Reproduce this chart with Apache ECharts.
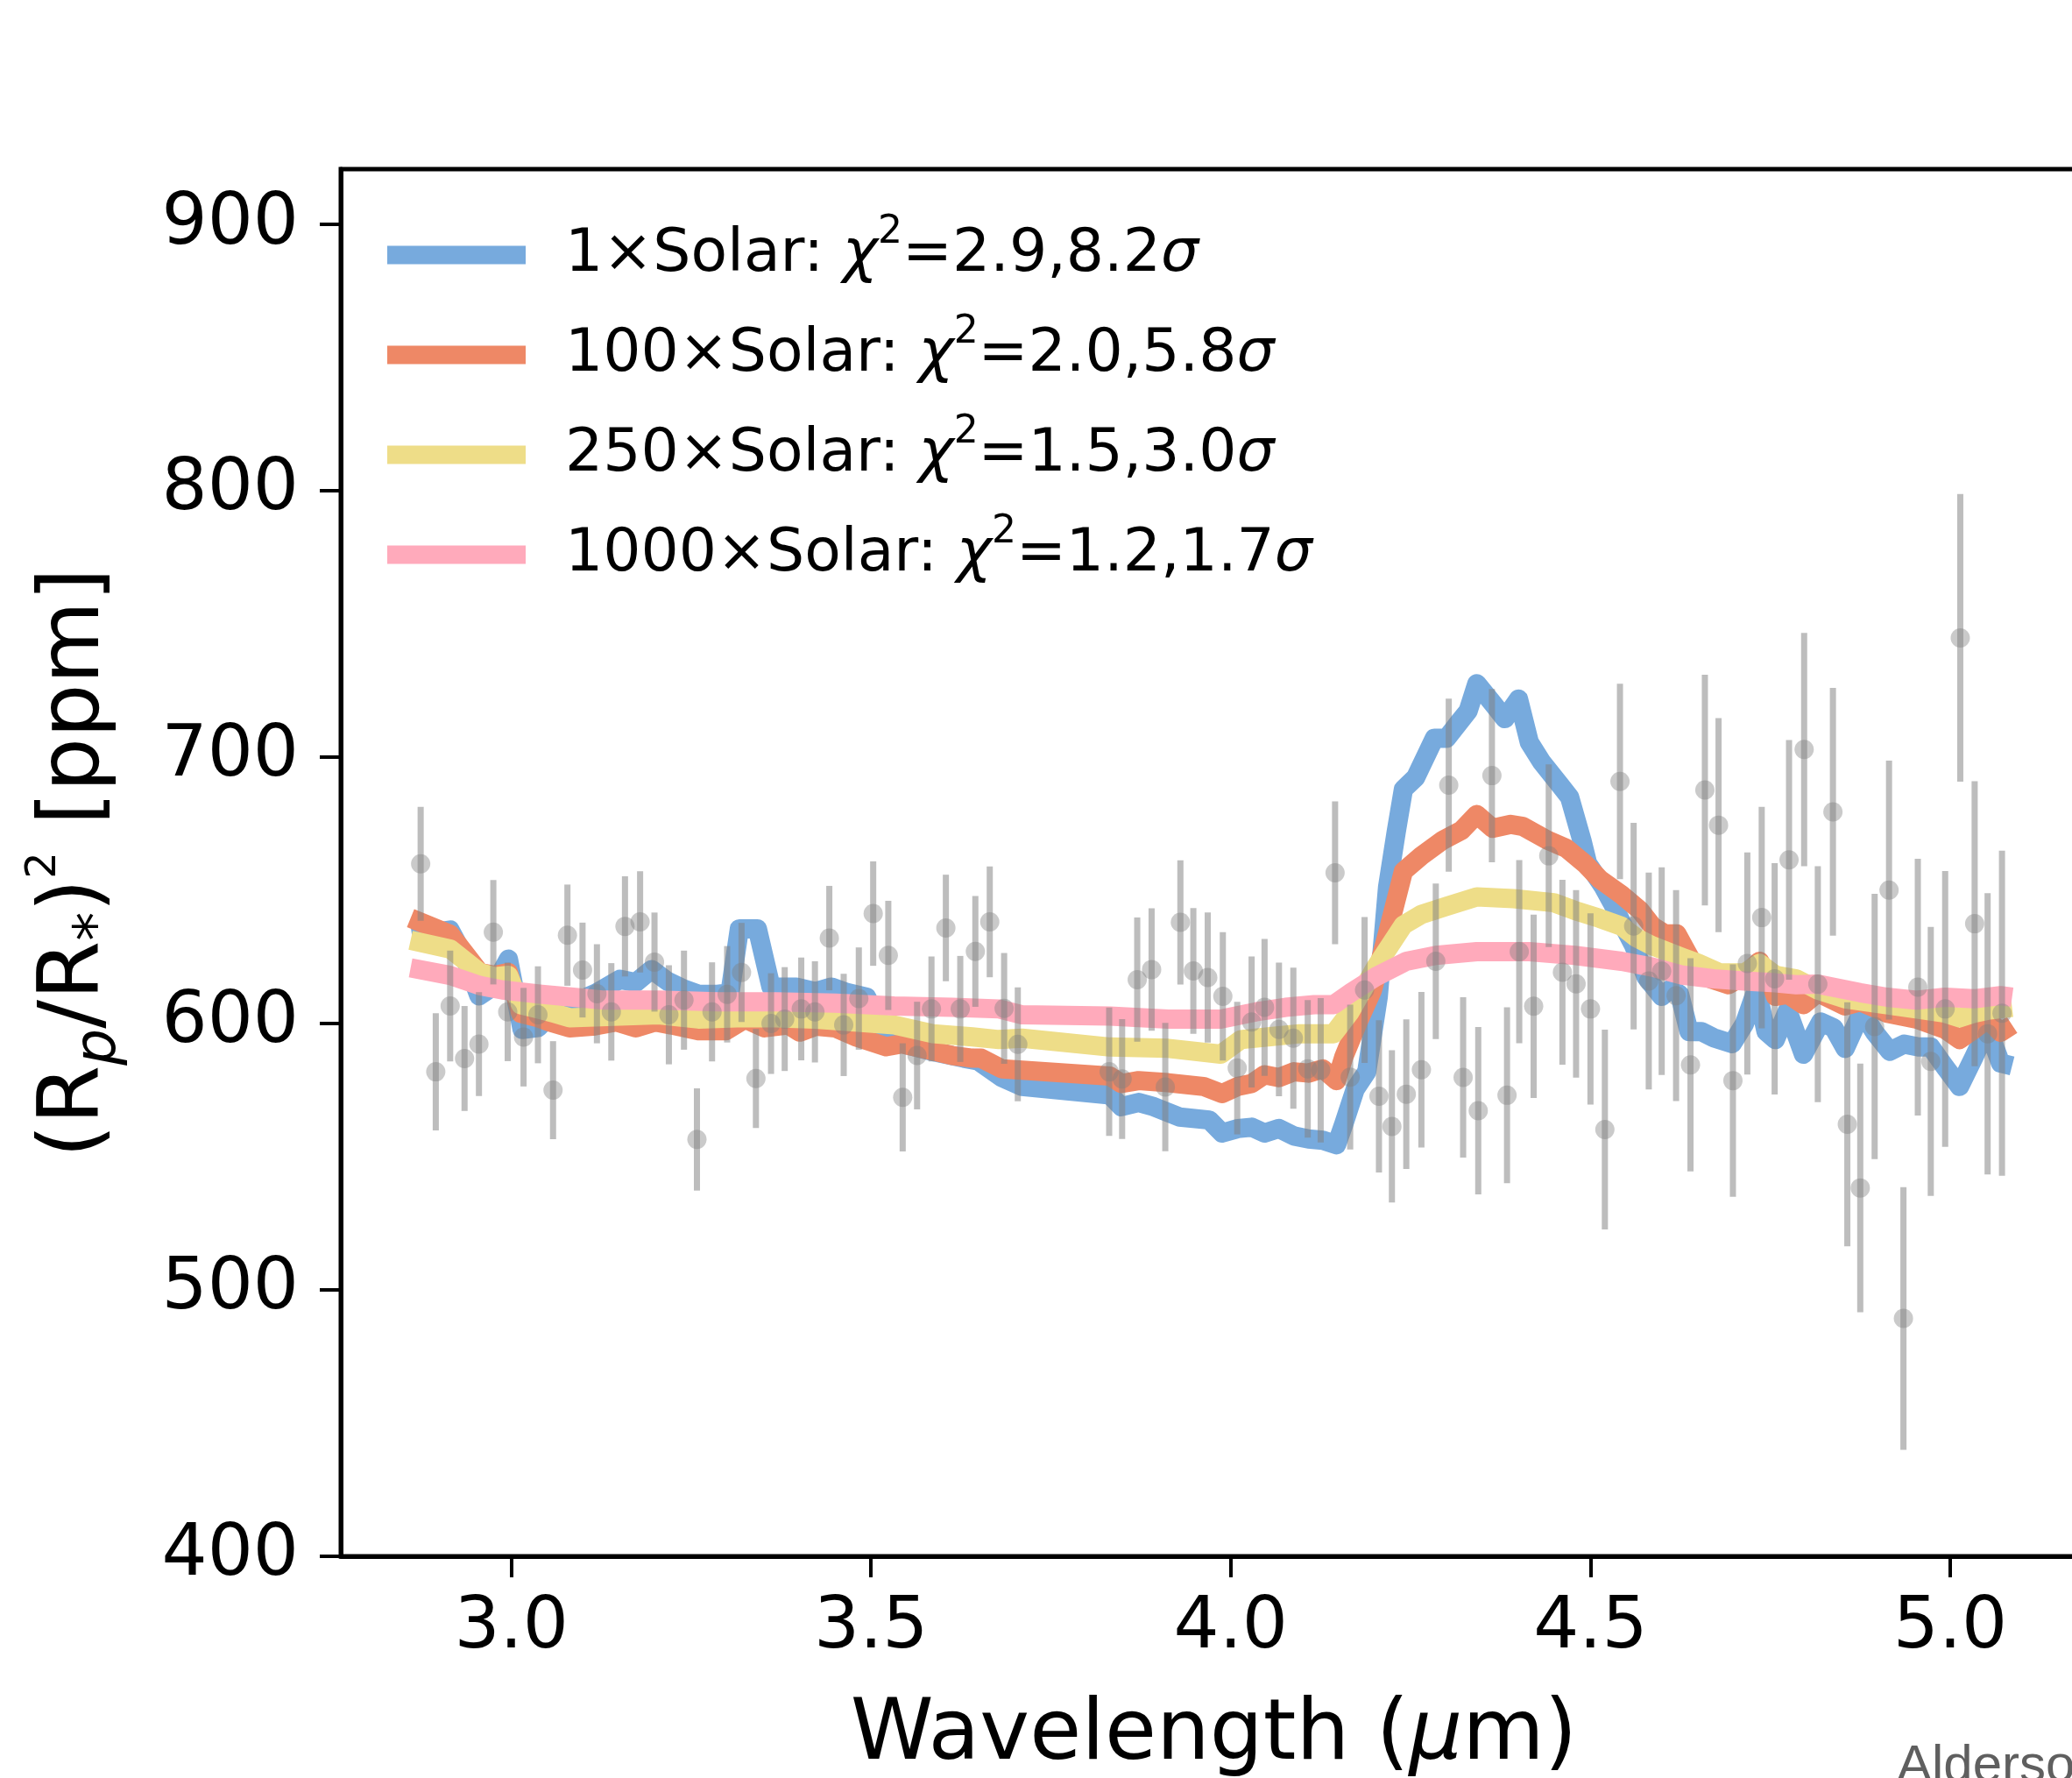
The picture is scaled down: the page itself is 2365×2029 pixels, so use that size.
<!DOCTYPE html>
<html>
<head>
<meta charset="utf-8">
<script src="https://cdn.jsdelivr.net/npm/echarts@6/dist/echarts.min.js"></script>
<style>
  html, body { margin: 0; padding: 0; background: #ffffff; }
  #chart { width: 2365px; height: 2029px; }
</style>
</head>
<body>
<div id="chart"></div>
<script>
// Observed transit spectrum: wavelength (µm), depth (ppm), 1σ uncertainty (ppm)
const obsWavelength = [
  2.874, 2.895, 2.915, 2.935, 2.955, 2.975, 2.995, 3.017, 3.037, 3.058,
  3.078, 3.099, 3.119, 3.139, 3.158, 3.179, 3.199, 3.219, 3.240, 3.258,
  3.279, 3.300, 3.320, 3.340, 3.361, 3.380, 3.403, 3.422, 3.442, 3.462,
  3.483, 3.503, 3.524, 3.544, 3.564, 3.584, 3.604, 3.624, 3.645, 3.665,
  3.685, 3.704,
  3.831, 3.849, 3.870, 3.890, 3.909, 3.930, 3.948, 3.968, 3.989, 4.009,
  4.029, 4.047, 4.067, 4.087, 4.107, 4.125, 4.145, 4.166, 4.186, 4.206,
  4.224, 4.244, 4.265, 4.285, 4.303, 4.323, 4.344, 4.363, 4.384, 4.401,
  4.421, 4.442, 4.461, 4.480, 4.500, 4.520, 4.541, 4.560, 4.581, 4.599,
  4.619, 4.639, 4.659, 4.678, 4.698, 4.718, 4.738, 4.756, 4.776, 4.797,
  4.816, 4.837, 4.857, 4.875, 4.895, 4.915, 4.935, 4.955, 4.973, 4.993,
  5.014, 5.034, 5.052, 5.072
];
const obsDepth = [
  660.0, 581.9, 606.6, 586.9, 592.3, 634.3, 604.4, 594.9, 603.3, 575.0,
  633.2, 620.1, 611.2, 604.4, 636.5, 638.2, 623.1, 603.3, 608.8, 556.5,
  604.4, 611.0, 619.2, 579.4, 600.0, 601.7, 605.5, 604.4, 632.1, 599.5,
  609.4, 641.3, 625.6, 572.3, 588.0, 605.5, 635.9, 605.5, 627.1, 638.2,
  605.7, 592.2,
  581.9, 579.2, 616.5, 620.3, 576.2, 638.0, 619.8, 617.3, 610.2, 583.3,
  600.6, 606.1, 597.8, 594.5, 583.0, 582.5, 656.6, 579.9, 612.6, 572.7,
  561.4, 573.5, 582.7, 623.4, 689.5, 579.8, 567.3, 693.1, 573.1, 627.0,
  606.5, 663.0, 619.3, 614.9, 605.5, 560.2, 690.9, 636.6, 616.0, 619.7,
  610.5, 584.5, 687.7, 674.5, 578.6, 622.6, 639.8, 616.8, 661.5, 702.9,
  614.8, 679.5, 562.2, 538.3, 598.9, 650.1, 489.3, 613.7, 585.8, 605.5,
  744.8, 637.5, 596.2, 603.9
];
const obsError = [
  21.4, 22.0, 20.8, 19.7, 19.5, 19.6, 18.5, 18.5, 18.2, 18.4,
  19.0, 17.8, 18.6, 18.3, 18.8, 19.0, 18.6, 18.6, 18.6, 19.2,
  18.6, 18.1, 18.6, 18.6, 18.9, 19.5, 19.3, 19.0, 19.6, 19.2,
  19.2, 19.6, 20.5, 20.3, 20.2, 19.7, 20.0, 19.9, 20.8, 20.8,
  20.8, 21.4,
  24.1, 22.5, 23.3, 23.0, 24.1, 23.3, 23.6, 24.4, 24.1, 24.9,
  24.6, 25.7, 25.1, 26.5, 25.8, 27.1, 26.8, 27.2, 27.4, 28.6,
  28.6, 28.1, 29.2, 29.2, 32.5, 30.1, 31.4, 32.5, 33.0, 34.4,
  34.4, 34.3, 34.7, 35.2, 35.9, 37.5, 36.7, 38.8, 40.7, 39.0,
  39.6, 40.0, 43.3, 40.2, 43.6, 41.7, 41.6, 43.4, 45.0, 43.8,
  44.3, 46.5, 45.8, 46.7, 49.8, 48.6, 49.3, 48.2, 50.5, 51.8,
  54.0, 53.5, 52.8, 61.0
];

// Binned model spectra: [wavelength (µm), depth (ppm)]
const model1xSolar = [
  [2.862, 633], [2.915, 635.1], [2.935, 625], [2.955, 610.4], [2.975, 614], [2.996, 624.2],
  [3.015, 597.8], [3.037, 598.5], [3.053, 602.8], [3.075, 605], [3.097, 609], [3.119, 611.6],
  [3.151, 616.6], [3.173, 615.4], [3.195, 620.3], [3.217, 615.9], [3.238, 613.2], [3.260, 611],
  [3.287, 611], [3.304, 611.6], [3.317, 635.6], [3.342, 635.6], [3.361, 613.7], [3.396, 613.7],
  [3.423, 612], [3.445, 613.7], [3.467, 611.6], [3.494, 609.9], [3.521, 596], [3.550, 592],
  [3.586, 589.5], [3.629, 587], [3.649, 586], [3.682, 579.7], [3.710, 576.4], [3.832, 573.2],
  [3.848, 568.8], [3.872, 570.4], [3.893, 568.8], [3.929, 564.9], [3.970, 563.8], [3.988, 558.9],
  [4.010, 560.6], [4.029, 561.1], [4.047, 558.9], [4.067, 560.6], [4.088, 557.8], [4.108, 556.7],
  [4.128, 556.2], [4.147, 554.5], [4.157, 562.2], [4.173, 575.4], [4.189, 581.9], [4.205, 610],
  [4.218, 651.3], [4.230, 672], [4.240, 688], [4.257, 692.4], [4.283, 707.1], [4.300, 707.1],
  [4.317, 713], [4.330, 717.4], [4.342, 727.6], [4.364, 720.3], [4.381, 714.5], [4.400, 721.8],
  [4.415, 705.6], [4.432, 698.3], [4.458, 689.5], [4.471, 685], [4.488, 668.9], [4.496, 660.1],
  [4.518, 651.3], [4.530, 645.4], [4.543, 638.1], [4.560, 629.3], [4.577, 617.6], [4.599, 610.2],
  [4.612, 613.1], [4.624, 610.9], [4.637, 597], [4.654, 597], [4.671, 594.7], [4.697, 592.5],
  [4.714, 599.9], [4.731, 613.1], [4.744, 597], [4.757, 594], [4.774, 605], [4.796, 588.5],
  [4.820, 600.6], [4.838, 598.4], [4.854, 590.7], [4.877, 604.4], [4.895, 596.7], [4.916, 589.6],
  [4.936, 592.3], [4.956, 591.2], [4.973, 591.2], [4.993, 583.6], [5.013, 576.4], [5.033, 587.4],
  [5.052, 598.4], [5.070, 585.2], [5.086, 584.1]
];
const model100xSolar = [
  [2.860, 639.6], [2.915, 633.5], [2.956, 619.2], [2.977, 618.1], [2.996, 619.2], [3.013, 603.9],
  [3.037, 602.2], [3.053, 600.6], [3.081, 598.4], [3.113, 599], [3.146, 600.6], [3.173, 598.4],
  [3.200, 600.6], [3.222, 599.5], [3.260, 597.3], [3.298, 597.3], [3.325, 601.7], [3.352, 598.4],
  [3.385, 599.5], [3.401, 596.8], [3.423, 599], [3.450, 598.4], [3.478, 595.1], [3.521, 591.3],
  [3.543, 592.4], [3.586, 589.7], [3.613, 588], [3.641, 587], [3.653, 587], [3.682, 583],
  [3.710, 582.5], [3.832, 580.3], [3.848, 577.5], [3.872, 578.6], [3.913, 577.8], [3.962, 576.4],
  [3.988, 573.7], [4.010, 576.4], [4.029, 577.5], [4.047, 580.8], [4.067, 579.7], [4.088, 581.9],
  [4.108, 581.4], [4.128, 583], [4.147, 578.6], [4.157, 587.4], [4.177, 600.6], [4.197, 612.6],
  [4.218, 634], [4.240, 657.2], [4.265, 663], [4.295, 668.9], [4.321, 672.6], [4.342, 678.5],
  [4.364, 673.3], [4.389, 674.8], [4.406, 674], [4.440, 668.9], [4.466, 665.9], [4.492, 660.1],
  [4.513, 654.2], [4.543, 648.4], [4.569, 642.5], [4.586, 636.6], [4.603, 633.7], [4.620, 633.7],
  [4.641, 623.4], [4.667, 616.8], [4.692, 614.6], [4.714, 618.2], [4.735, 623.4], [4.748, 617.5],
  [4.757, 610.2], [4.774, 611], [4.796, 607.1], [4.816, 611.6], [4.854, 606.6], [4.875, 608.2],
  [4.912, 603.9], [4.953, 601.7], [4.993, 597.8], [5.013, 594], [5.033, 597.8], [5.052, 601.7],
  [5.070, 596.7], [5.086, 599.5]
];
const model250xSolar = [
  [2.860, 631.3], [2.915, 628], [2.956, 619.2], [2.977, 617.6], [2.996, 618.1], [3.013, 607.1],
  [3.037, 605.5], [3.059, 603.9], [3.081, 602.2], [3.151, 602.8], [3.205, 603.3], [3.260, 601.7],
  [3.314, 602.2], [3.368, 602.2], [3.423, 601.7], [3.478, 600.6], [3.532, 599.5], [3.586, 596.2],
  [3.641, 595], [3.678, 594], [3.710, 594.5], [3.832, 591.2], [3.913, 590.7], [3.986, 588.5],
  [4.014, 594], [4.055, 595.1], [4.096, 596.2], [4.143, 596.2], [4.165, 604], [4.201, 621],
  [4.240, 637], [4.265, 641], [4.300, 644], [4.342, 647.6], [4.393, 646.9], [4.449, 645.4],
  [4.478, 642.5], [4.513, 639.5], [4.543, 636.6], [4.564, 632.2], [4.586, 629.2], [4.628, 624.8],
  [4.650, 622.6], [4.680, 619], [4.714, 619], [4.735, 622.6], [4.757, 618.2], [4.786, 616.8],
  [4.816, 612.6], [4.854, 609.3], [4.912, 607.1], [4.953, 605.5], [4.993, 603.9], [5.013, 602.2],
  [5.033, 603.9], [5.052, 605], [5.086, 606.1]
];
const model1000xSolar = [
  [2.860, 620.9], [2.915, 618.1], [2.956, 614.3], [2.988, 612.6], [3.042, 611], [3.086, 609.9],
  [3.129, 608.8], [3.205, 608.8], [3.287, 608.2], [3.368, 608.2], [3.450, 607.7], [3.532, 606.6],
  [3.613, 606.1], [3.678, 605.5], [3.710, 603.3], [3.832, 602.8], [3.913, 601.7], [3.986, 601.7],
  [4.035, 604.4], [4.076, 606.1], [4.116, 607.1], [4.143, 607.1], [4.167, 611.6], [4.201, 617.5],
  [4.244, 623.4], [4.285, 625.6], [4.342, 627], [4.415, 627], [4.478, 625.6], [4.543, 623.4],
  [4.586, 621.2], [4.628, 618.2], [4.671, 616.8], [4.714, 616], [4.757, 615.3], [4.786, 614.6],
  [4.816, 614.8], [4.875, 611.6], [4.912, 609.9], [4.953, 608.8], [4.993, 609.9], [5.033, 609.3],
  [5.070, 610.5], [5.086, 609.9]
];

const modelNames = ['1×Solar', '100×Solar', '250×Solar', '1000×Solar'];
const modelChi2 = ['2.9', '2.0', '1.5', '1.2'];
const modelSigma = ['8.2', '5.8', '3.0', '1.7'];
const modelColors = ['#77AADD', '#EE8866', '#EEDD88', '#FFAABB'];
const modelData = [model1xSolar, model100xSolar, model250xSolar, model1000xSolar];

const xTicks = [3.0, 3.5, 4.0, 4.5, 5.0];
const yTicks = [400, 500, 600, 700, 800, 900];

const FONT = '"DejaVu Sans", "Noto Sans", sans-serif';
const GREY = 'rgba(128,128,128,0.52)';

const chart = echarts.init(document.getElementById('chart'), null, { renderer: 'canvas' });

const lineSeries = modelNames.map((name, i) => ({
  name: name,
  type: 'line',
  data: modelData[i],
  showSymbol: false,
  symbol: 'none',
  smooth: false,
  z: 2 + i * 0.01,
  itemStyle: { color: modelColors[i] },
  lineStyle: { color: modelColors[i], width: 22, join: 'round', cap: 'butt' },
  emphasis: { disabled: true },
  silent: true
}));

const obsPoints = obsWavelength.map((w, i) => [w, obsDepth[i], obsError[i]]);

const legendText = {};
modelNames.forEach((n, i) => {
  legendText[n] = n + ': {chi|χ}{sup|2}=' + modelChi2[i] + ',' + modelSigma[i] + '{sig|σ}';
});

const option = {
  backgroundColor: '#ffffff',
  animation: false,
  textStyle: { fontFamily: FONT, color: '#000' },
  grid: {
    left: 389, top: 193, width: 1993, height: 1583,
    show: true, borderColor: '#000', borderWidth: 5, backgroundColor: 'transparent',
    containLabel: false, outerBoundsMode: 'none'
  },
  legend: {
    orient: 'vertical',
    left: 442, top: 244, padding: 0,
    itemWidth: 158, itemHeight: 21, itemGap: 20,
    icon: 'rect',
    data: modelNames,
    selectedMode: false,
    formatter: (name) => legendText[name],
    textStyle: {
      fontFamily: FONT, fontSize: 68, color: '#000', lineHeight: 94,
      padding: [0, 0, 0, 40],
      rich: {
        chi: { fontFamily: FONT, fontSize: 68, fontStyle: 'italic', color: '#000', lineHeight: 94 },
        sup: { fontFamily: FONT, fontSize: 44, color: '#000', verticalAlign: 'top', lineHeight: 62 },
        sig: { fontFamily: FONT, fontSize: 68, fontStyle: 'italic', color: '#000', lineHeight: 94 }
      }
    }
  },
  xAxis: {
    type: 'value',
    min: 2.763, max: 5.19,
    name: 'Wavelength ({mu|μ}m)',
    nameLocation: 'middle',
    nameGap: 158,
    nameTextStyle: {
      fontFamily: FONT, fontSize: 96, color: '#000',
      rich: { mu: { fontFamily: FONT, fontSize: 96, fontStyle: 'italic', color: '#000' } }
    },
    axisLine: { show: true, onZero: false, lineStyle: { color: '#000', width: 5 } },
    axisTick: { show: true, inside: false, length: 24, lineStyle: { color: '#000', width: 4 }, customValues: xTicks },
    axisLabel: {
      show: true, margin: 42, fontFamily: FONT, fontSize: 82, color: '#000',
      customValues: xTicks,
      formatter: (v) => Number(v).toFixed(1)
    },
    splitLine: { show: false }
  },
  yAxis: {
    type: 'value',
    min: 400, max: 920.8,
    name: '(R{sub|p}/R{ast|*}){sup|2} [ppm]',
    nameLocation: 'middle',
    nameRotate: 90,
    nameGap: 242,
    nameTextStyle: {
      fontFamily: FONT, fontSize: 97, color: '#000', lineHeight: 120,
      rich: {
        sub: { fontFamily: FONT, fontSize: 66, fontStyle: 'italic', color: '#000', verticalAlign: 'bottom', lineHeight: 65 },
        ast: { fontFamily: FONT, fontSize: 66, color: '#000', verticalAlign: 'bottom', lineHeight: 65 },
        sup: { fontFamily: FONT, fontSize: 48, color: '#000', verticalAlign: 'top', lineHeight: 40 }
      }
    },
    axisLine: { show: true, onZero: false, lineStyle: { color: '#000', width: 5 } },
    axisTick: { show: true, inside: false, length: 24, lineStyle: { color: '#000', width: 4 }, customValues: yTicks },
    axisLabel: {
      show: true, margin: 48, fontFamily: FONT, fontSize: 82, color: '#000',
      customValues: yTicks
    },
    splitLine: { show: false }
  },
  series: lineSeries.concat([
    {
      name: 'obs-errorbars',
      type: 'custom',
      data: obsPoints,
      encode: { x: 0, y: 1 },
      clip: true,
      z: 5,
      silent: true,
      renderItem: (params, api) => {
        const x = api.value(0), y = api.value(1), e = api.value(2);
        const top = api.coord([x, y + e]);
        const bot = api.coord([x, y - e]);
        return {
          type: 'line',
          shape: { x1: top[0], y1: top[1], x2: bot[0], y2: bot[1] },
          style: { stroke: GREY, lineWidth: 7, lineCap: 'butt' }
        };
      }
    },
    {
      name: 'obs-points',
      type: 'scatter',
      data: obsPoints.map(p => [p[0], p[1]]),
      symbol: 'circle',
      symbolSize: 22,
      z: 6,
      silent: true,
      itemStyle: { color: GREY, borderWidth: 0 },
      emphasis: { disabled: true }
    }
  ]),
  graphic: [
    {
      type: 'text',
      x: 2165, y: 2016,
      silent: true,
      style: {
        text: 'Alderson',
        fontFamily: '"Liberation Sans", Arial, sans-serif',
        fontSize: 60,
        fill: '#5f5f5f',
        verticalAlign: 'middle',
        align: 'left'
      }
    }
  ]
};

chart.setOption(option);
</script>
</body>
</html>
